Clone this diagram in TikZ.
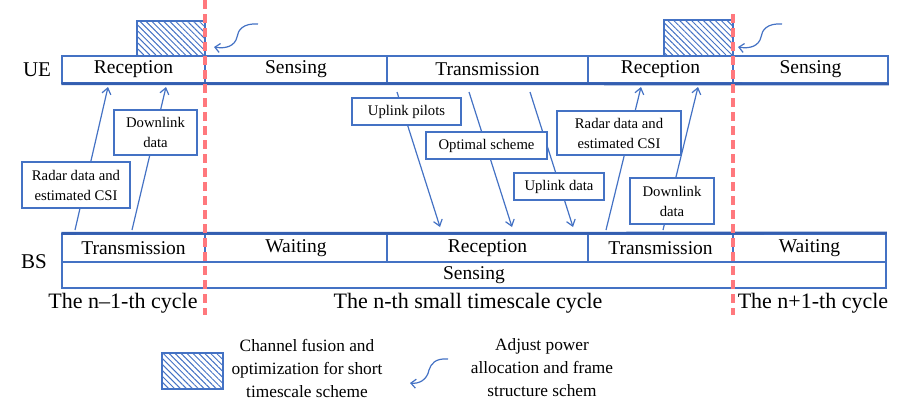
\documentclass[tikz,border=0pt]{standalone}
\usepackage{fontspec}
\setmainfont{Liberation Serif}
\usetikzlibrary{arrows.meta,patterns.meta}
\definecolor{bl}{RGB}{68,114,196}
\definecolor{dbl}{RGB}{52,94,176}
\definecolor{rd}{RGB}{255,120,125}
\begin{document}
\begin{tikzpicture}[x=1pt,y=-1pt,
  cell/.style={draw=bl,line width=1.3pt,inner sep=0pt,font=\fontsize{19.5}{22}\selectfont},
  lbl/.style={draw=bl,line width=1.2pt,fill=white,inner sep=0pt,align=center,font=\fontsize{14.7}{20}\selectfont},
  arr/.style={draw=bl,line width=1.2pt,-{Straight Barb[length=6pt,width=9pt]}},
  hatch/.style={draw=bl,line width=1.3pt,pattern={Lines[angle=-45,distance=4.2pt,line width=1pt]},pattern color=bl},
  reddash/.style={draw=rd,line width=3.2pt,dash pattern=on 9pt off 5pt},
  big/.style={font=\fontsize{22}{26}\selectfont,inner sep=0pt},
  leg/.style={font=\fontsize{17.3}{23}\selectfont,align=center,inner sep=0pt},
  curl/.style={draw=bl,line width=1.2pt,-{Straight Barb[length=5pt,width=9pt]}}]
\useasboundingbox (0,0) rectangle (899,410);
% UE row
\node[cell,minimum width=143pt,minimum height=27pt] (ue1) at (133.5,69.5) {Reception};
\node[cell,minimum width=182pt,minimum height=27pt] (ue2) at (296,69.5) {Sensing};
\node[cell,minimum width=201pt,minimum height=27pt] (ue3) at (487.5,69.5) {Transmission};
\node[cell,minimum width=145pt,minimum height=27pt] (ue4) at (660.5,69.5) {Reception};
\node[cell,minimum width=155pt,minimum height=27pt,line width=1.9pt] (ue5) at (810.5,69.5) {Sensing};
\draw[dbl,line width=2.8pt] (ue1.south west) -- (ue5.south east);
% BS row
\node[cell,minimum width=143pt,minimum height=28pt] (bs1) at (133.5,248) {Transmission};
\node[cell,minimum width=182pt,minimum height=28pt] (bs2) at (296,248) {Waiting};
\node[cell,minimum width=201pt,minimum height=28pt] (bs3) at (487.5,248) {Reception};
\node[cell,minimum width=145pt,minimum height=28pt] (bs4) at (660.5,248) {Transmission};
\node[cell,minimum width=153pt,minimum height=28pt,line width=1.9pt] (bs5) at (809.5,248) {Waiting};
\node[cell,minimum width=824pt,minimum height=26pt] (bss) at (474,275) {Sensing};
\draw[dbl,line width=2.8pt] (bs1.north west) -- (bs5.north east);
% hatched boxes
\node[hatch,minimum width=68pt,minimum height=35pt,inner sep=0pt] (h1) at (171,38.5) {};
\node[hatch,minimum width=69pt,minimum height=36pt,inner sep=0pt] (h2) at (698.5,38) {};
% arrows
\coordinate (a1s) at (75,230); \coordinate (a1e) at (108,87);
\coordinate (a2s) at (132,230); \coordinate (a2e) at (166,87);
\coordinate (a3s) at (397,92); \coordinate (a3e) at (440,227);
\coordinate (a4s) at (469,92); \coordinate (a4e) at (512,227);
\coordinate (a5s) at (530,92); \coordinate (a5e) at (573,227);
\coordinate (a6s) at (606,230); \coordinate (a6e) at (641,87);
\coordinate (a7s) at (663,230); \coordinate (a7e) at (698,87);
\draw[arr] (a1s) -- (a1e);
\draw[arr] (a2s) -- (a2e);
\draw[arr] (a3s) -- (a3e);
\draw[arr] (a4s) -- (a4e);
\draw[arr] (a5s) -- (a5e);
\draw[arr] (a6s) -- (a6e);
\draw[arr] (a7s) -- (a7e);
% labels
\node[lbl,minimum width=108pt,minimum height=46pt] (l1) at (76,185) {Radar data and\\estimated CSI};
\node[lbl,minimum width=83pt,minimum height=45pt] (l2) at (155.5,132.5) {Downlink\\data};
\node[lbl,minimum width=109pt,minimum height=27pt] (l3) at (406.5,111.5) {Uplink pilots};
\node[lbl,minimum width=121pt,minimum height=27pt] (l4) at (486.5,145.5) {Optimal scheme};
\node[lbl,minimum width=90pt,minimum height=27pt] (l5) at (559,186.5) {Uplink data};
\node[lbl,minimum width=124pt,minimum height=44pt] (l6) at (619,133) {Radar data and\\estimated CSI};
\node[lbl,minimum width=84pt,minimum height=46pt] (l7) at (672,201) {Downlink\\data};
% red dashed
\coordinate (d1t) at (205,0); \coordinate (d1b) at (205,315);
\coordinate (d2t) at (733,14); \coordinate (d2b) at (733,315);
\draw[reddash] (d1t) -- (d1b);
\draw[reddash] (d2t) -- (d2b);
% curly arrows
\coordinate (c1s) at (258,24); \coordinate (c1e) at (214,47);
\coordinate (c2s) at (782,24); \coordinate (c2e) at (738,47);
\draw[curl] (c1s) .. controls (243,23) and (238,30) .. (237,37) .. controls (235,46) and (226,49) .. (c1e);
\draw[curl] (c2s) .. controls (767,23) and (762,30) .. (761,37) .. controls (759,46) and (750,49) .. (c2e);
% side labels
\node[big,font=\fontsize{21}{24}\selectfont] (ue) at (37,70) {UE};
\node[big,font=\fontsize{21}{24}\selectfont] (bs) at (34,262) {BS};
\node[big] (cy1) at (123,303) {The n–1-th cycle};
\node[big] (cy2) at (468,303) {The n-th small timescale cycle};
\node[big] (cy3) at (813,303) {The n+1-th cycle};
% legend
\node[hatch,minimum width=61pt,minimum height=36pt,inner sep=0pt] (lh) at (192.5,371) {};
\node[leg] (lt1) at (307,368) {Channel fusion and\\optimization for short\\timescale scheme};
\coordinate (c3s) at (448,359); \coordinate (c3e) at (410,383);
\draw[curl] (c3s) .. controls (435,358) and (431,364) .. (429,370) .. controls (427,380) and (419,384) .. (c3e);
\node[leg] (lt2) at (542,368) {Adjust power\\allocation and frame\\structure schem};
\end{tikzpicture}
\end{document}
